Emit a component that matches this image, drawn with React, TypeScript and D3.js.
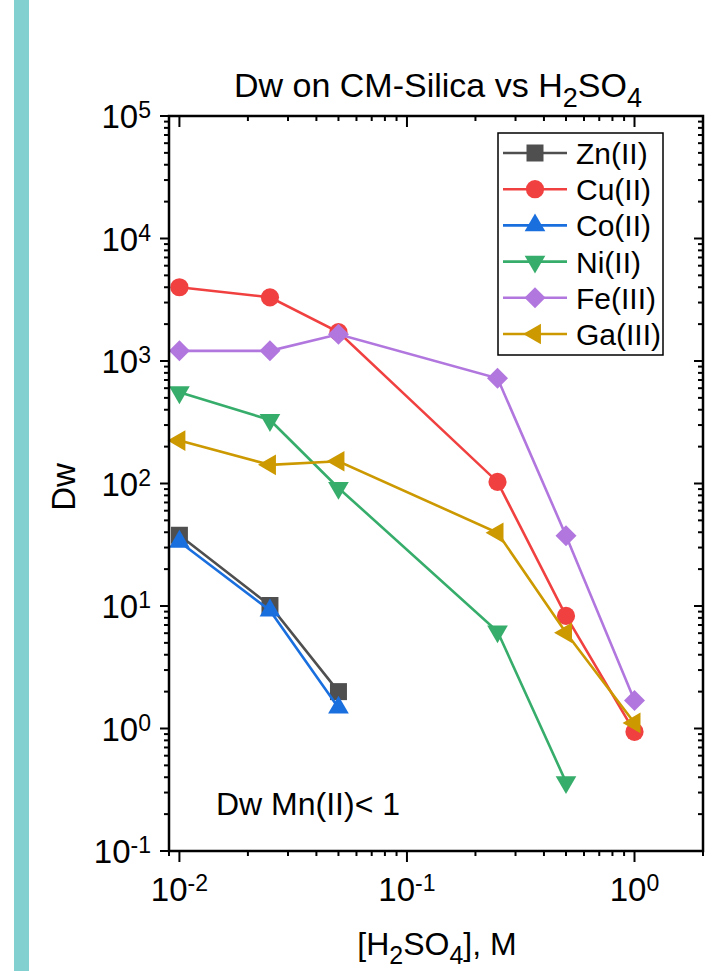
import React from "react";
import * as d3 from "d3";

const xValues = [0.01, 0.025, 0.05, 0.25, 0.5, 1];
const seriesNames = ["Zn(II)", "Cu(II)", "Co(II)", "Ni(II)", "Fe(III)", "Ga(III)"];
const znValues = [37.8, 10.1, 2.0];
const cuValues = [4000, 3310, 1720, 103, 8.3, 0.94];
const coValues = [33.5, 9.2, 1.48];
const niValues = [555, 330, 92, 6.2, 0.365];
const feValues = [1210, 1210, 1650, 723, 37.5, 1.69];
const gaValues = [224, 142, 152, 39.6, 6.05, 1.11];
const seriesColors = ["#4f4f4f", "#f14040", "#1a6fdf", "#37ad6b", "#b177de", "#cc9900"];
const seriesSymbols = ["square", "circle", "triangleUp", "triangleDown", "diamond", "triangleLeft"];
const xTickLabels = [
  { v: 0.01, e: "-2" },
  { v: 0.1, e: "-1" },
  { v: 1, e: "0" },
];
const yTickExps = [-1, 0, 1, 2, 3, 4, 5];

const FONT = "'Liberation Sans', Arial, Helvetica, sans-serif";
const W = 722;
const H = 971;
const M = { left: 169, right: 703, top: 116, bottom: 851 };

const allValues = [znValues, cuValues, coValues, niValues, feValues, gaValues];

function symbolPath(kind: string): { d: string; rot: number } {
  if (kind === "square") return { d: d3.symbol(d3.symbolSquare, 289)()!, rot: 0 };
  if (kind === "circle") return { d: d3.symbol(d3.symbolCircle, 260)()!, rot: 0 };
  if (kind === "diamond") return { d: d3.symbol(d3.symbolSquare, 220)()!, rot: 45 };
  const tri = d3.symbol(d3.symbolTriangle, 185)()!;
  if (kind === "triangleUp") return { d: tri, rot: 0 };
  if (kind === "triangleDown") return { d: tri, rot: 180 };
  return { d: tri, rot: -90 };
}

function Marker({ kind, x, y, color }: { kind: string; x: number; y: number; color: string }) {
  const s = symbolPath(kind);
  return <path d={s.d} fill={color} transform={`translate(${x},${y}) rotate(${s.rot})`} />;
}

export default function App() {
  const x = d3.scaleLog().domain([0.009, 2]).range([M.left, M.right]);
  const y = d3.scaleLog().domain([0.1, 1e5]).range([M.bottom, M.top]);

  const xMajor = [0.01, 0.1, 1];
  const xMinor: number[] = [];
  [0.001, 0.01, 0.1, 1].forEach((b) => {
    for (let k = 2; k <= 9; k++) {
      const v = b * k;
      if (v >= 0.009 - 1e-9 && v <= 2 + 1e-9) xMinor.push(v);
    }
  });
  const yMajor = yTickExps.map((e) => Math.pow(10, e));
  const yMinor: number[] = [];
  yTickExps.slice(0, -1).forEach((e) => {
    for (let k = 2; k <= 9; k++) yMinor.push(k * Math.pow(10, e));
  });

  const line = d3
    .line<[number, number]>()
    .x((d) => x(d[0]))
    .y((d) => y(d[1]));

  const majLen = 9;
  const minLen = 5;
  const tickW = 2;

  const legendX = 498;
  const legendY = 133;
  const legendW = 165;
  const legendH = 222;
  const rowH = 36.2;

  return (
    <svg
      width={W}
      height={H}
      style={{ position: "absolute", left: 0, top: 0, background: "#fff" }}
      fontFamily={FONT}
    >
      <rect x={0} y={0} width={W} height={H} fill="#fff" />
      <rect x={14} y={0} width={15} height={H} fill="#82d0d0" />

      {/* Title */}
      <text x={234} y={97} fontSize={34} fill="#000">
        Dw on CM-Silica vs H
        <tspan fontSize={27} dy={10}>2</tspan>
        <tspan dy={-10}>SO</tspan>
        <tspan fontSize={27} dy={10}>4</tspan>
      </text>

      {/* Series */}
      {allValues.map((vals, i) => {
        const pts = vals.map((v, j) => [xValues[j], v] as [number, number]);
        return (
          <g key={seriesNames[i]}>
            <path d={line(pts)!} fill="none" stroke={seriesColors[i]} strokeWidth={2.6} />
            {pts.map((p, j) => (
              <Marker key={j} kind={seriesSymbols[i]} x={x(p[0])} y={y(p[1])} color={seriesColors[i]} />
            ))}
          </g>
        );
      })}

      {/* Frame */}
      <rect
        x={M.left}
        y={M.top}
        width={M.right - M.left}
        height={M.bottom - M.top}
        fill="none"
        stroke="#000"
        strokeWidth={2.5}
      />

      {/* X ticks bottom (outward) and top (inward) */}
      {xMajor.map((v) => (
        <g key={"xM" + v}>
          <line x1={x(v)} x2={x(v)} y1={M.bottom} y2={M.bottom + majLen + 2} stroke="#000" strokeWidth={tickW} />
          <line x1={x(v)} x2={x(v)} y1={M.top} y2={M.top + majLen + 2} stroke="#000" strokeWidth={tickW} />
        </g>
      ))}
      {xMinor.map((v) => (
        <g key={"xm" + v}>
          <line x1={x(v)} x2={x(v)} y1={M.bottom} y2={M.bottom + minLen} stroke="#000" strokeWidth={tickW} />
          <line x1={x(v)} x2={x(v)} y1={M.top} y2={M.top + minLen} stroke="#000" strokeWidth={tickW} />
        </g>
      ))}

      {/* Y ticks left (outward) and right (inward) */}
      {yMajor.map((v) => (
        <g key={"yM" + v}>
          <line x1={M.left - majLen} x2={M.left} y1={y(v)} y2={y(v)} stroke="#000" strokeWidth={tickW} />
          <line x1={M.right - majLen} x2={M.right} y1={y(v)} y2={y(v)} stroke="#000" strokeWidth={tickW} />
        </g>
      ))}
      {yMinor.map((v) => (
        <g key={"ym" + v}>
          <line x1={M.left - minLen} x2={M.left} y1={y(v)} y2={y(v)} stroke="#000" strokeWidth={tickW} />
          <line x1={M.right - minLen} x2={M.right} y1={y(v)} y2={y(v)} stroke="#000" strokeWidth={tickW} />
        </g>
      ))}

      {/* X tick labels */}
      {xTickLabels.map((t) => (
        <text key={"xl" + t.v} x={x(t.v)} y={901} fontSize={33} textAnchor="middle" fill="#000">
          10
          <tspan fontSize={23} dy={-10}>{t.e}</tspan>
        </text>
      ))}

      {/* Y tick labels */}
      {yTickExps.map((e) => (
        <text key={"yl" + e} x={151} y={y(Math.pow(10, e)) + 12} fontSize={33} textAnchor="end" fill="#000">
          10
          <tspan fontSize={23} dy={-10}>{String(e)}</tspan>
        </text>
      ))}

      {/* Axis titles */}
      <text x={437} y={955} fontSize={32} textAnchor="middle" fill="#000">
        [H
        <tspan fontSize={25} dy={9}>2</tspan>
        <tspan dy={-9}>SO</tspan>
        <tspan fontSize={25} dy={9}>4</tspan>
        <tspan dy={-9}>], M</tspan>
      </text>
      <text transform="translate(75,487) rotate(-90)" fontSize={33} textAnchor="middle" fill="#000">
        Dw
      </text>

      {/* Annotation */}
      <text x={216} y={815} fontSize={32} fill="#000">
        Dw Mn(II)&lt; 1
      </text>

      {/* Legend */}
      <rect x={legendX} y={legendY} width={legendW} height={legendH} fill="#fff" stroke="#000" strokeWidth={1.5} />
      {seriesNames.map((name, i) => {
        const cy = legendY + 20 + i * rowH;
        return (
          <g key={"lg" + name}>
            <line x1={503} x2={567} y1={cy} y2={cy} stroke={seriesColors[i]} strokeWidth={2.6} />
            <Marker kind={seriesSymbols[i]} x={535} y={cy} color={seriesColors[i]} />
            <text x={576} y={cy + 11} fontSize={30} fill="#000">
              {name}
            </text>
          </g>
        );
      })}
    </svg>
  );
}
